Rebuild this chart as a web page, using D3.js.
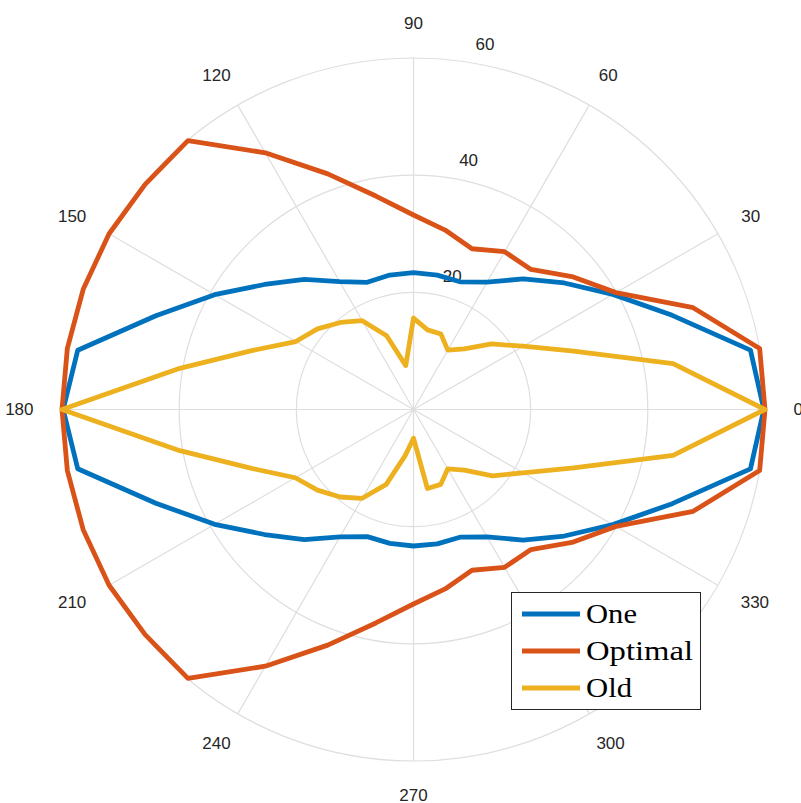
<!DOCTYPE html>
<html>
<head>
<meta charset="utf-8">
<script src="https://cdn.jsdelivr.net/npm/d3@7"></script>
<style>
  html, body { margin: 0; padding: 0; background: #fff; }
  svg { display: block; }
</style>
</head>
<body>
<svg id="chart" width="801" height="803"></svg>
<script>
// ---------------- data ----------------
const thetaDeg = d3.range(0, 360, 10);
const oneValues = [59.8, 58.4, 47.0, 39.3, 33.6, 29.1, 25.1, 23.2, 23.3, 23.35, 23.3, 23.1, 25.2, 29.0, 33.2, 39.2, 46.8, 58.2,
                   59.8, 58.2, 46.8, 39.2, 33.2, 29.0, 25.1, 23.1, 23.2, 23.3, 23.3, 23.2, 25.1, 29.1, 33.6, 39.3, 47.0, 58.4];
const optimalValues = [60, 60, 50.8, 39.9, 35.3, 31.2, 31.1, 29.2, 31.1, 33.2, 37.0, 42.8, 50.6, 59.9, 59.8, 60, 60, 60,
                       60, 60, 60, 60, 59.8, 59.9, 50.6, 42.8, 37.0, 33.2, 31.1, 29.2, 31.1, 31.2, 35.3, 39.9, 50.8, 60];
const oldValues = [60, 45.0, 29.1, 21.6, 17.4, 13.5, 11.7, 13.7, 13.8, 15.6, 7.6, 13.4, 17.5, 19.4, 21.4, 23.2, 29.4, 40.5,
                   60, 40.5, 29.4, 23.3, 21.4, 19.5, 17.5, 13.6, 7.9, 4.9, 13.7, 13.6, 11.7, 13.5, 17.6, 21.6, 29.1, 45.0];
const seriesNames = ["One", "Optimal", "Old"];
const seriesColors = ["#0072BD", "#D95319", "#EDB120"];
const thetaTicks = d3.range(0, 360, 30);
const thetaTickLabels = ["0", "30", "60", "90", "120", "150", "180", "210", "240", "270", "300", "330"];
const rTicks = [20, 40, 60];
const rTickLabels = ["20", "40", "60"];
const rMax = 60;

// ---------------- layout ----------------
const cx = 413.5, cy = 409.5, R = 351.5;
const svg = d3.select("#chart");
const g = svg.append("g").attr("transform", `translate(${cx},${cy})`);

const r = d3.scaleLinear().domain([0, rMax]).range([0, R]);
// math angle (deg, CCW from east) -> d3 radial angle (rad, clockwise from north)
const ang = d3.scaleLinear().domain([0, 360]).range([Math.PI / 2, Math.PI / 2 - 2 * Math.PI]);
const gridColor = "#dedede";

// grid circles
g.selectAll("circle.grid").data(rTicks).enter().append("circle")
  .attr("class", "grid").attr("r", d => r(d))
  .attr("fill", "none").attr("stroke", gridColor).attr("stroke-width", 1.2);

// spokes
g.selectAll("line.spoke").data(thetaTicks).enter().append("line")
  .attr("x1", 0).attr("y1", 0)
  .attr("x2", d => R * Math.cos(d * Math.PI / 180))
  .attr("y2", d => -R * Math.sin(d * Math.PI / 180))
  .attr("stroke", gridColor).attr("stroke-width", 1.2);

// theta labels
const font = "'Liberation Sans', Arial, Helvetica, sans-serif";
const pad = 28.5, th = 6;
g.selectAll("text.theta").data(thetaTicks).enter().append("text")
  .attr("font-family", font).attr("font-size", 17).attr("fill", "#262626")
  .attr("text-anchor", "middle").attr("dominant-baseline", "central")
  .text((d, i) => thetaTickLabels[i])
  .each(function(d) {
    const w = this.getComputedTextLength();
    const a = d * Math.PI / 180, c = Math.cos(a), s = Math.sin(a);
    const x = (R + pad) * c + c * w / 2;
    const y = -(R + pad) * s - s * th;
    d3.select(this).attr("x", x).attr("y", y);
  });

// radial labels
const ra = 82 * Math.PI / 180;
g.selectAll("text.rlab").data(rTicks).enter().append("text")
  .attr("font-family", font).attr("font-size", 17).attr("fill", "#262626")
  .attr("text-anchor", "middle").attr("dominant-baseline", "central")
  .attr("x", d => r(d) * Math.cos(ra) + 22.5)
  .attr("y", d => -r(d) * Math.sin(ra) - 16.7)
  .text((d, i) => rTickLabels[i]);

// series
const line = d3.lineRadial()
  .angle((d, i) => ang(thetaDeg[i]))
  .radius(d => r(d))
  .curve(d3.curveLinearClosed);

[oneValues, optimalValues, oldValues].forEach((vals, k) => {
  g.append("path").attr("d", line(vals))
    .attr("fill", "none").attr("stroke", seriesColors[k])
    .attr("stroke-width", 4.8).attr("stroke-linejoin", "round");
});

// legend
const lg = svg.append("g");
lg.append("rect").attr("x", 511.5).attr("y", 592.5).attr("width", 189).attr("height", 117)
  .attr("fill", "#fff").attr("stroke", "#262626").attr("stroke-width", 1);
const legY = [614, 651, 688];
const legW = [51, 107, 46];
seriesNames.forEach((name, k) => {
  lg.append("line").attr("x1", 522).attr("x2", 580).attr("y1", legY[k]).attr("y2", legY[k])
    .attr("stroke", seriesColors[k]).attr("stroke-width", 5);
  lg.append("text").attr("x", 586).attr("y", legY[k] + 8.5)
    .attr("font-family", "'Liberation Serif', 'Times New Roman', serif").attr("font-size", 28)
    .attr("fill", "#000")
    .attr("textLength", legW[k]).attr("lengthAdjust", "spacingAndGlyphs")
    .text(name);
});
</script>
</body>
</html>
